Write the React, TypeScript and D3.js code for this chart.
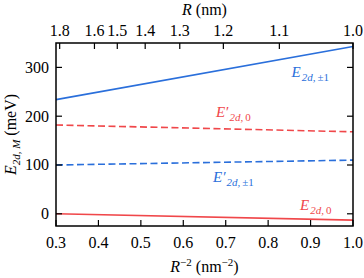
import React from 'react'
import * as d3 from 'd3'

// x positions in R^-2 (nm^-2), values in meV
const xEnds = [0.3, 1.0]
const e2dPm1 = [234, 343]
const e2dPrime0 = [182, 168]
const e2dPrimePm1 = [100, 110]
const e2d0 = [0, -13]

const bottomTicks = [0.3, 0.4, 0.5, 0.6, 0.7, 0.8, 0.9, 1.0]
const leftTicks = [0, 100, 200, 300]
const topTicksR = [1.8, 1.6, 1.5, 1.4, 1.3, 1.2, 1.1, 1.0]

const BLUE = '#2a6fdb'
const RED = '#f0474a'
const FONT = 'Liberation Serif, Times New Roman, serif'

const width = 364
const height = 278
const marginLeft = 56
const marginRight = 11
const marginTop = 43
const marginBottom = 52
const tickLen = 6

export default function App() {
  const x = d3.scaleLinear().domain([0.3, 1.0]).range([marginLeft, width - marginRight])
  const y = d3.scaleLinear().domain([-25, 350]).range([height - marginBottom, marginTop])
  const line = d3.line<[number, number]>().x(d => x(d[0])).y(d => y(d[1]))
  const fmt = d3.format('.1f')

  const series = [
    { key: 'pm1', vals: e2dPm1, color: BLUE, dash: undefined },
    { key: 'p0', vals: e2dPrime0, color: RED, dash: '7 3.5' },
    { key: 'ppm1', vals: e2dPrimePm1, color: BLUE, dash: '7 3.5' },
    { key: 'z0', vals: e2d0, color: RED, dash: undefined },
  ]

  // label anchors in data units
  const labels = [
    { x: 0.855, v: 281, color: BLUE, prime: false, sub: ['2d,', '±1'] },
    { x: 0.677, v: 199, color: RED, prime: true, sub: ['2d,', '0'] },
    { x: 0.67, v: 66, color: BLUE, prime: true, sub: ['2d,', '±1'] },
    { x: 0.875, v: 8, color: RED, prime: false, sub: ['2d,', '0'] },
  ]

  const bottom = height - marginBottom
  const right = width - marginRight
  const midX = (marginLeft + right) / 2

  return (
    <svg width={width} height={height} fontFamily={FONT} style={{ position: 'absolute', left: 0, top: 0 }}>
      <g>
        {series.map(s => (
          <path key={s.key}
            d={line(xEnds.map((xv, i) => [xv, s.vals[i]] as [number, number])) || ''}
            fill="none" stroke={s.color} strokeWidth={1.6} strokeDasharray={s.dash} />
        ))}
      </g>

      {/* bottom axis */}
      <g>
        {bottomTicks.map(t => (
          <g key={t} transform={`translate(${x(t)},${bottom})`}>
            <line y2={-tickLen} stroke="#000" strokeWidth={1.2} />
            <text y={22} textAnchor="middle" fontSize={16} fontFamily={FONT}>{fmt(t)}</text>
          </g>
        ))}
      </g>

      {/* top axis: R in nm */}
      <g>
        {topTicksR.map(r => (
          <g key={r} transform={`translate(${x(1 / (r * r))},${marginTop})`}>
            <line y2={tickLen} stroke="#000" strokeWidth={1.2} />
            <text y={-7} textAnchor="middle" fontSize={16} fontFamily={FONT}>{fmt(r)}</text>
          </g>
        ))}
      </g>

      {/* left and right axes */}
      <g>
        {leftTicks.map(t => (
          <g key={t} transform={`translate(0,${y(t)})`}>
            <line x1={marginLeft} x2={marginLeft + tickLen} stroke="#000" strokeWidth={1.2} />
            <line x1={right} x2={right - tickLen} stroke="#000" strokeWidth={1.2} />
            <text x={marginLeft - 7} dy="0.34em" textAnchor="end" fontSize={16} fontFamily={FONT}>{t}</text>
          </g>
        ))}
      </g>

      <rect x={marginLeft} y={marginTop} width={right - marginLeft} height={bottom - marginTop}
        fill="none" stroke="#000" strokeWidth={1.5} />

      {/* series labels */}
      {labels.map((l, i) => (
        <text key={i} x={x(l.x)} y={y(l.v)} fill={l.color} fontSize={15} fontFamily={FONT}>
          <tspan fontStyle="italic">{l.prime ? 'E′' : 'E'}</tspan>
          <tspan dy={4} dx={1} fontSize={11} fontStyle="italic">{l.sub[0]}</tspan>
          <tspan dx={2} fontSize={11}>{l.sub[1]}</tspan>
        </text>
      ))}

      {/* axis titles */}
      <text x={midX} y={15} textAnchor="middle" fontSize={16} fontFamily={FONT}>
        <tspan fontStyle="italic">R</tspan>
        <tspan> (nm)</tspan>
      </text>

      <text x={midX} y={272} textAnchor="middle" fontSize={16} fontFamily={FONT}>
        <tspan fontStyle="italic">R</tspan>
        <tspan dy={-6} fontSize={11}>−2</tspan>
        <tspan dy={6}> (nm</tspan>
        <tspan dy={-6} fontSize={11}>−2</tspan>
        <tspan dy={6}>)</tspan>
      </text>

      <text transform={`translate(16,${(marginTop + bottom) / 2}) rotate(-90)`} textAnchor="middle" fontSize={16} fontFamily={FONT}>
        <tspan fontStyle="italic">E</tspan>
        <tspan dy={4} fontSize={11} fontStyle="italic">2d, M</tspan>
        <tspan dy={-4}> (meV)</tspan>
      </text>
    </svg>
  )
}
